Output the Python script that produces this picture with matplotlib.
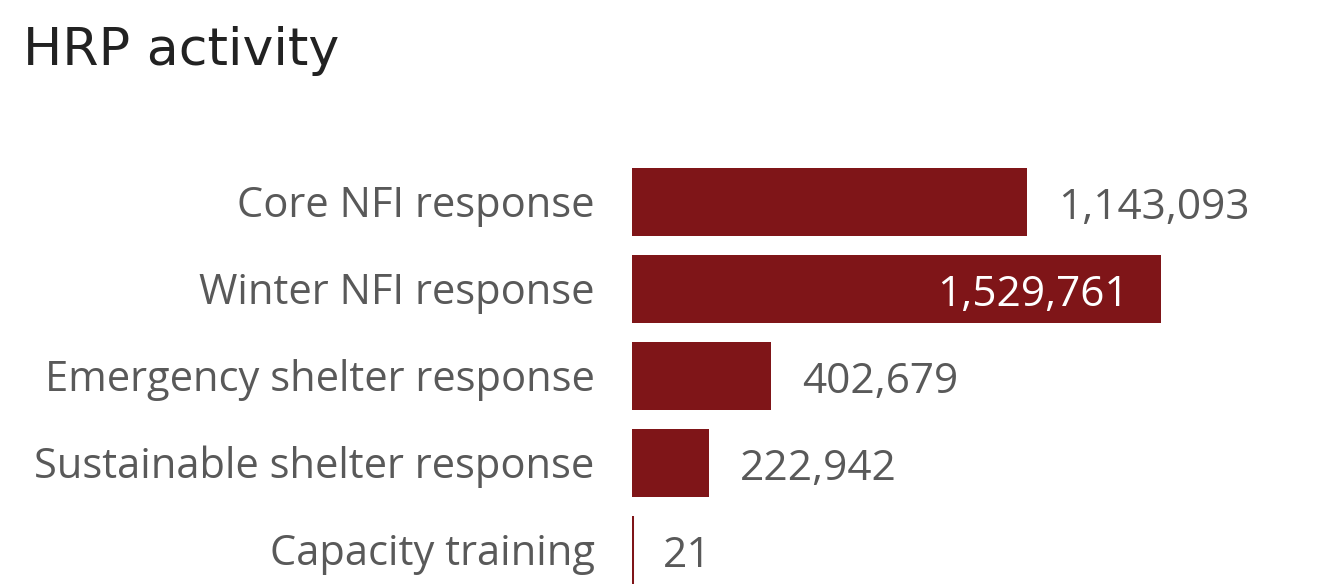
import matplotlib
matplotlib.use('Agg')
import matplotlib.pyplot as plt

# Data
categories = ['Core NFI response', 'Winter NFI response', 'Emergency shelter response',
              'Sustainable shelter response', 'Capacity training']
values = [1143093, 1529761, 402679, 222942, 21]
inside_label = [False, True, False, False, False]

bar_color = '#7f1518'
text_grey = '#595959'

fig = plt.figure(figsize=(13.32, 5.86), dpi=100)
fig.patch.set_facecolor('white')

# axes placed so bars begin at x=632px
ax = fig.add_axes([632 / 1332, 0, 700 / 1332, 436 / 586])
ypos = list(range(len(categories)))
ax.barh(ypos, values, height=0.78, color=bar_color,
        edgecolor=bar_color, linewidth=[0, 0, 0, 0, 2.9])

ax.set_xlim(0, 2024240)
ax.set_ylim(4.414, -0.598)
ax.axis('off')

# value labels
for y, v, inside in zip(ypos, values, inside_label):
    lbl = f'{v:,}'
    if inside:
        ax.annotate(lbl, (v, y), xytext=(-23, -4), textcoords='offset points',
                    ha='right', va='center', color='white',
                    fontsize=30.5, family='Open Sans')
    else:
        ax.annotate(lbl, (v, y), xytext=(22, -4.5), textcoords='offset points',
                    ha='left', va='center', color=text_grey,
                    fontsize=30.5, family='Open Sans')

# category labels
for y, c in zip(ypos, categories):
    ax.annotate(c, (0, y), xytext=(-27, -3), textcoords='offset points',
                ha='right', va='center', color=text_grey,
                fontsize=30, family='Open Sans')

fig.text(23 / 1332, 1 - 51 / 586, 'HRP activity', fontsize=37.6, color='#222222',
         family='DejaVu Sans', ha='left', va='center')

fig.savefig('out.png', dpi=100)
